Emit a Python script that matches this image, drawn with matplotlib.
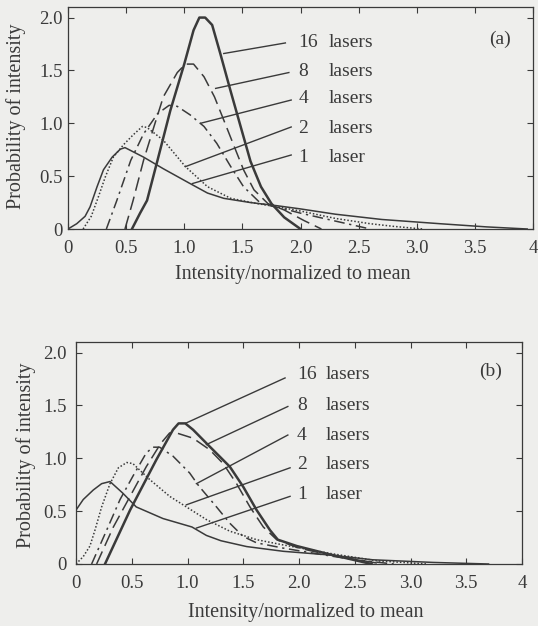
import matplotlib
matplotlib.use("Agg")
from matplotlib import pyplot as plt

plt.rcParams['font.family'] = ['Liberation Serif', 'DejaVu Serif']

INK = "#3a3a3a"
PAPER = "#eeeeec"

laser_counts = ["16", "8", "4", "2", "1"]
laser_words = ["lasers", "lasers", "lasers", "lasers", "laser"]
x_ticks = [0, 0.5, 1.0, 1.5, 2.0, 2.5, 3.0, 3.5, 4.0]
x_tick_labels = ["0", "0.5", "1.0", "1.5", "2.0", "2.5", "3.0", "3.5", "4"]
y_ticks = [0, 0.5, 1.0, 1.5, 2.0]
y_tick_labels = ["0", "0.5", "1.0", "1.5", "2.0"]

# ---- panel (a) ----
a_16_x = [0.55, 0.62, 0.68, 0.77, 0.88, 1.00, 1.08, 1.13, 1.18, 1.24, 1.31, 1.40, 1.49, 1.57, 1.66, 1.75, 1.86, 2.0]
a_16_y = [0, 0.15, 0.27, 0.65, 1.12, 1.56, 1.88, 2.0, 2.0, 1.93, 1.66, 1.30, 0.95, 0.64, 0.40, 0.24, 0.11, 0]
a_8_x = [0.49, 0.56, 0.65, 0.74, 0.82, 0.94, 1.01, 1.08, 1.17, 1.26, 1.34, 1.43, 1.51, 1.60, 1.72, 1.86, 2.03, 2.18]
a_8_y = [0, 0.27, 0.65, 0.97, 1.25, 1.48, 1.56, 1.56, 1.44, 1.25, 1.03, 0.78, 0.56, 0.37, 0.24, 0.18, 0.08, 0]
a_4_x = [0.33, 0.42, 0.54, 0.65, 0.77, 0.87, 0.94, 1.05, 1.17, 1.28, 1.40, 1.51, 1.66, 1.86, 2.0, 2.2, 2.4, 2.6]
a_4_y = [0, 0.27, 0.65, 0.90, 1.09, 1.17, 1.16, 1.08, 0.97, 0.81, 0.59, 0.40, 0.24, 0.19, 0.15, 0.10, 0.05, 0]
a_2_x = [0.13, 0.20, 0.26, 0.32, 0.39, 0.48, 0.56, 0.64, 0.68, 0.82, 1.01, 1.20, 1.40, 1.63, 1.80, 2.0, 2.3, 2.6, 2.8, 3.05]
a_2_y = [0, 0.12, 0.30, 0.49, 0.68, 0.80, 0.89, 0.97, 0.96, 0.84, 0.59, 0.40, 0.29, 0.24, 0.21, 0.17, 0.10, 0.05, 0.025, 0]
a_1_x = [0, 0.075, 0.147, 0.19, 0.25, 0.305, 0.38, 0.45, 0.49, 0.65, 0.82, 1.05, 1.20, 1.34, 1.57, 1.80, 2.0, 2.3, 2.7, 3.2, 3.6, 3.95]
a_1_y = [0, 0.05, 0.12, 0.21, 0.40, 0.56, 0.68, 0.755, 0.77, 0.68, 0.57, 0.43, 0.34, 0.29, 0.25, 0.22, 0.19, 0.14, 0.09, 0.05, 0.02, 0]
# leader lines: (text end x, y) -> (curve x, y)
a_lead_start = [(1.87, 1.76), (1.90, 1.48), (1.92, 1.22), (1.92, 0.965), (1.92, 0.70)]
a_lead_end = [(1.34, 1.66), (1.27, 1.33), (1.14, 1.00), (1.01, 0.59), (1.07, 0.43)]
a_text_y = [1.76, 1.49, 1.23, 0.95, 0.68]

# ---- panel (b) ----
b_16_x = [0.26, 0.485, 0.72, 0.87, 0.92, 0.98, 1.05, 1.20, 1.38, 1.50, 1.62, 1.74, 1.81, 1.98, 2.28, 2.65]
b_16_y = [0, 0.51, 0.985, 1.27, 1.33, 1.33, 1.27, 1.11, 0.92, 0.73, 0.51, 0.32, 0.23, 0.17, 0.09, 0]
b_8_x = [0.185, 0.335, 0.485, 0.63, 0.76, 0.84, 0.90, 1.05, 1.20, 1.32, 1.44, 1.56, 1.68, 1.80, 2.0, 2.3, 2.75]
b_8_y = [0, 0.35, 0.64, 0.92, 1.14, 1.24, 1.24, 1.19, 1.08, 0.95, 0.76, 0.54, 0.35, 0.23, 0.15, 0.08, 0]
b_4_x = [0.14, 0.275, 0.395, 0.51, 0.63, 0.69, 0.75, 0.87, 1.02, 1.10, 1.26, 1.38, 1.50, 1.62, 1.86, 2.2, 2.5, 2.85]
b_4_y = [0, 0.32, 0.61, 0.83, 1.05, 1.105, 1.105, 1.02, 0.86, 0.74, 0.54, 0.385, 0.26, 0.20, 0.15, 0.09, 0.04, 0]
b_2_x = [0, 0.065, 0.125, 0.17, 0.23, 0.305, 0.38, 0.455, 0.51, 0.66, 0.84, 0.99, 1.17, 1.38, 1.62, 1.86, 2.28, 2.7, 3.15]
b_2_y = [0, 0.07, 0.17, 0.32, 0.54, 0.76, 0.91, 0.96, 0.95, 0.80, 0.64, 0.54, 0.42, 0.31, 0.23, 0.18, 0.10, 0.03, 0]
b_1_x = [0, 0.065, 0.155, 0.23, 0.305, 0.42, 0.54, 0.78, 1.04, 1.17, 1.30, 1.53, 1.86, 2.28, 2.66, 3.2, 3.7]
b_1_y = [0.51, 0.61, 0.70, 0.76, 0.78, 0.67, 0.54, 0.43, 0.35, 0.27, 0.22, 0.165, 0.12, 0.085, 0.04, 0.015, 0]
b_lead_start = [(1.875, 1.76), (1.90, 1.49), (1.90, 1.22), (1.92, 0.91), (1.92, 0.64)]
b_lead_end = [(0.98, 1.33), (1.17, 1.13), (1.08, 0.76), (0.99, 0.56), (1.08, 0.34)]
b_text_y = [1.79, 1.50, 1.22, 0.94, 0.66]


def draw_panel(ax, curves, lead_start, lead_end, text_y, tag, tag_y, ytick_pad):
    """curves - list of (x, y, linestyle, linewidth), drawn in order"""
    for xs, ys, ls, lw in curves:
        ax.plot(xs, ys, color=INK, linestyle=ls, linewidth=lw)
    for (x0, y0), (x1, y1) in zip(lead_start, lead_end):
        ax.plot([x0, x1], [y0, y1], color=INK, linewidth=1.0)
    for count, word, ty in zip(laser_counts, laser_words, text_y):
        ax.text(1.98, ty, count, fontsize=14, color=INK, va="center", ha="left")
        ax.text(2.24, ty, word, fontsize=14, color=INK, va="center", ha="left")
    ax.text(3.72, tag_y, tag, fontsize=14, color=INK, va="center", ha="center")

    ax.set_xlim(0, 4)
    ax.set_ylim(0, 2.1)
    ax.set_xticks(x_ticks)
    ax.set_xticklabels(x_tick_labels)
    ax.set_yticks(y_ticks)
    ax.set_yticklabels(y_tick_labels)
    ax.tick_params(direction="in", length=4, width=0.8, color=INK,
                   top=True, right=True, labelsize=13.5, labelcolor=INK)
    ax.tick_params(axis="x", pad=8)
    ax.tick_params(axis="y", pad=ytick_pad)
    for spine in ax.spines.values():
        spine.set_color(INK)
        spine.set_linewidth(0.9)
    ax.set_facecolor(PAPER)
    ax.set_xlabel("Intensity/normalized to mean", fontsize=14.5, color=INK)
    ax.set_ylabel("Probability of intensity", fontsize=14.5, color=INK)


fig = plt.figure(figsize=(5.38, 6.26), dpi=100, facecolor=PAPER)

ax_a = fig.add_axes([68 / 538, 1 - 229 / 626, 465 / 538, 222 / 626])
curves_a = [
    (a_1_x, a_1_y, "-", 1.1),
    (a_2_x, a_2_y, (0, (1, 1.3)), 1.1),
    (a_4_x, a_4_y, (0, (7, 3, 1.5, 3)), 1.1),
    (a_8_x, a_8_y, (0, (9, 4)), 1.1),
    (a_16_x, a_16_y, "-", 1.8),
]
draw_panel(ax_a, curves_a, a_lead_start, a_lead_end, a_text_y, "(a)", 1.79, 4)
ax_a.xaxis.set_label_coords(0.484, -0.16)
ax_a.yaxis.set_label_coords(-0.09, 0.51)

ax_b = fig.add_axes([76 / 538, 1 - 564 / 626, 446 / 538, 222 / 626])
curves_b = [
    (b_1_x, b_1_y, "-", 1.1),
    (b_2_x, b_2_y, (0, (1, 1.3)), 1.1),
    (b_4_x, b_4_y, (0, (7, 3, 1.5, 3)), 1.1),
    (b_8_x, b_8_y, (0, (9, 4)), 1.1),
    (b_16_x, b_16_y, "-", 1.8),
]
draw_panel(ax_b, curves_b, b_lead_start, b_lead_end, b_text_y, "(b)", 1.82, 6.5)
ax_b.xaxis.set_label_coords(0.515, -0.175)
ax_b.yaxis.set_label_coords(-0.09, 0.49)

fig.savefig("out.png", dpi=100, facecolor=PAPER)
